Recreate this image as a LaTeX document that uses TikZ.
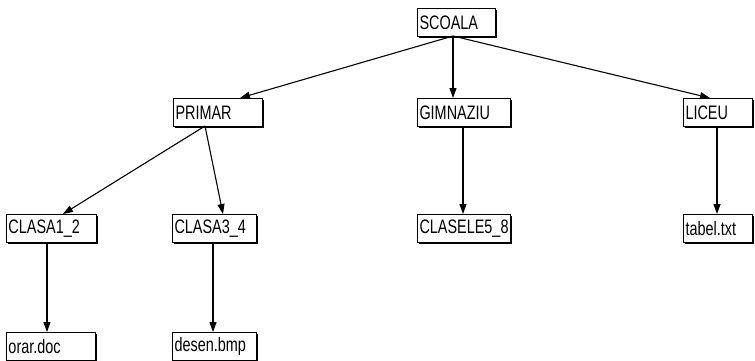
\documentclass[tikz,border=0pt]{standalone}
\usepackage{fontspec}
\setmainfont{Liberation Sans}[FakeStretch=0.74]
\usetikzlibrary{arrows.meta,shadows}
\begin{document}
\begin{tikzpicture}[x=1pt,y=-1pt,
  dirbox/.style={draw,fill=white,line width=1pt,anchor=north west,
    inner xsep=2pt,inner ysep=0pt,minimum height=28pt,align=left,
    font=\fontsize{19.5}{19.5}\selectfont,
    general shadow={shadow xshift=1.3pt,shadow yshift=-1.3pt,fill=black}},
  link/.style={line width=1.1pt,-{Triangle[length=10pt,width=7pt]}}]
\useasboundingbox[fill=white] (0,0) rectangle (755,360);
\node[dirbox,text width=74pt] (S) at (417,8) {SCOALA};
\node[dirbox,text width=85pt] (P) at (173,98) {PRIMAR};
\node[dirbox,text width=89pt] (G) at (417,98) {GIMNAZIU};
\node[dirbox,text width=65pt] (L) at (683,98) {LICEU};
\node[dirbox,text width=86pt] (C1) at (6,214) {CLASA1\_2};
\node[dirbox,text width=80pt] (C3) at (172,214) {CLASA3\_4};
\node[dirbox,text width=89pt] (C5) at (417,214) {CLASELE5\_8};
\node[dirbox,text width=65pt] (T) at (683,214) {tabel.txt};
\node[dirbox,text width=85pt] (O) at (6,332) {orar.doc};
\node[dirbox,text width=80pt] (D) at (172,332) {desen.bmp};
\draw[link] ([shift={(36,28)}]S.north west) -- ([shift={(67,0)}]P.north west);
\draw[link] ([shift={(36,28)}]S.north west) -- ([shift={(36,0)}]G.north west);
\draw[link] ([shift={(36,28)}]S.north west) -- ([shift={(27,0)}]L.north west);
\draw[link] ([shift={(32,28)}]P.north west) -- ([shift={(57,0)}]C1.north west);
\draw[link] ([shift={(32,28)}]P.north west) -- ([shift={(51,0)}]C3.north west);
\draw[link] ([shift={(46,28)}]G.north west) -- ([shift={(46,0)}]C5.north west);
\draw[link] ([shift={(34,28)}]L.north west) -- ([shift={(34,0)}]T.north west);
\draw[link] ([shift={(41,28)}]C1.north west) -- ([shift={(41,0)}]O.north west);
\draw[link] ([shift={(41,28)}]C3.north west) -- ([shift={(41,0)}]D.north west);
\end{tikzpicture}
\end{document}
